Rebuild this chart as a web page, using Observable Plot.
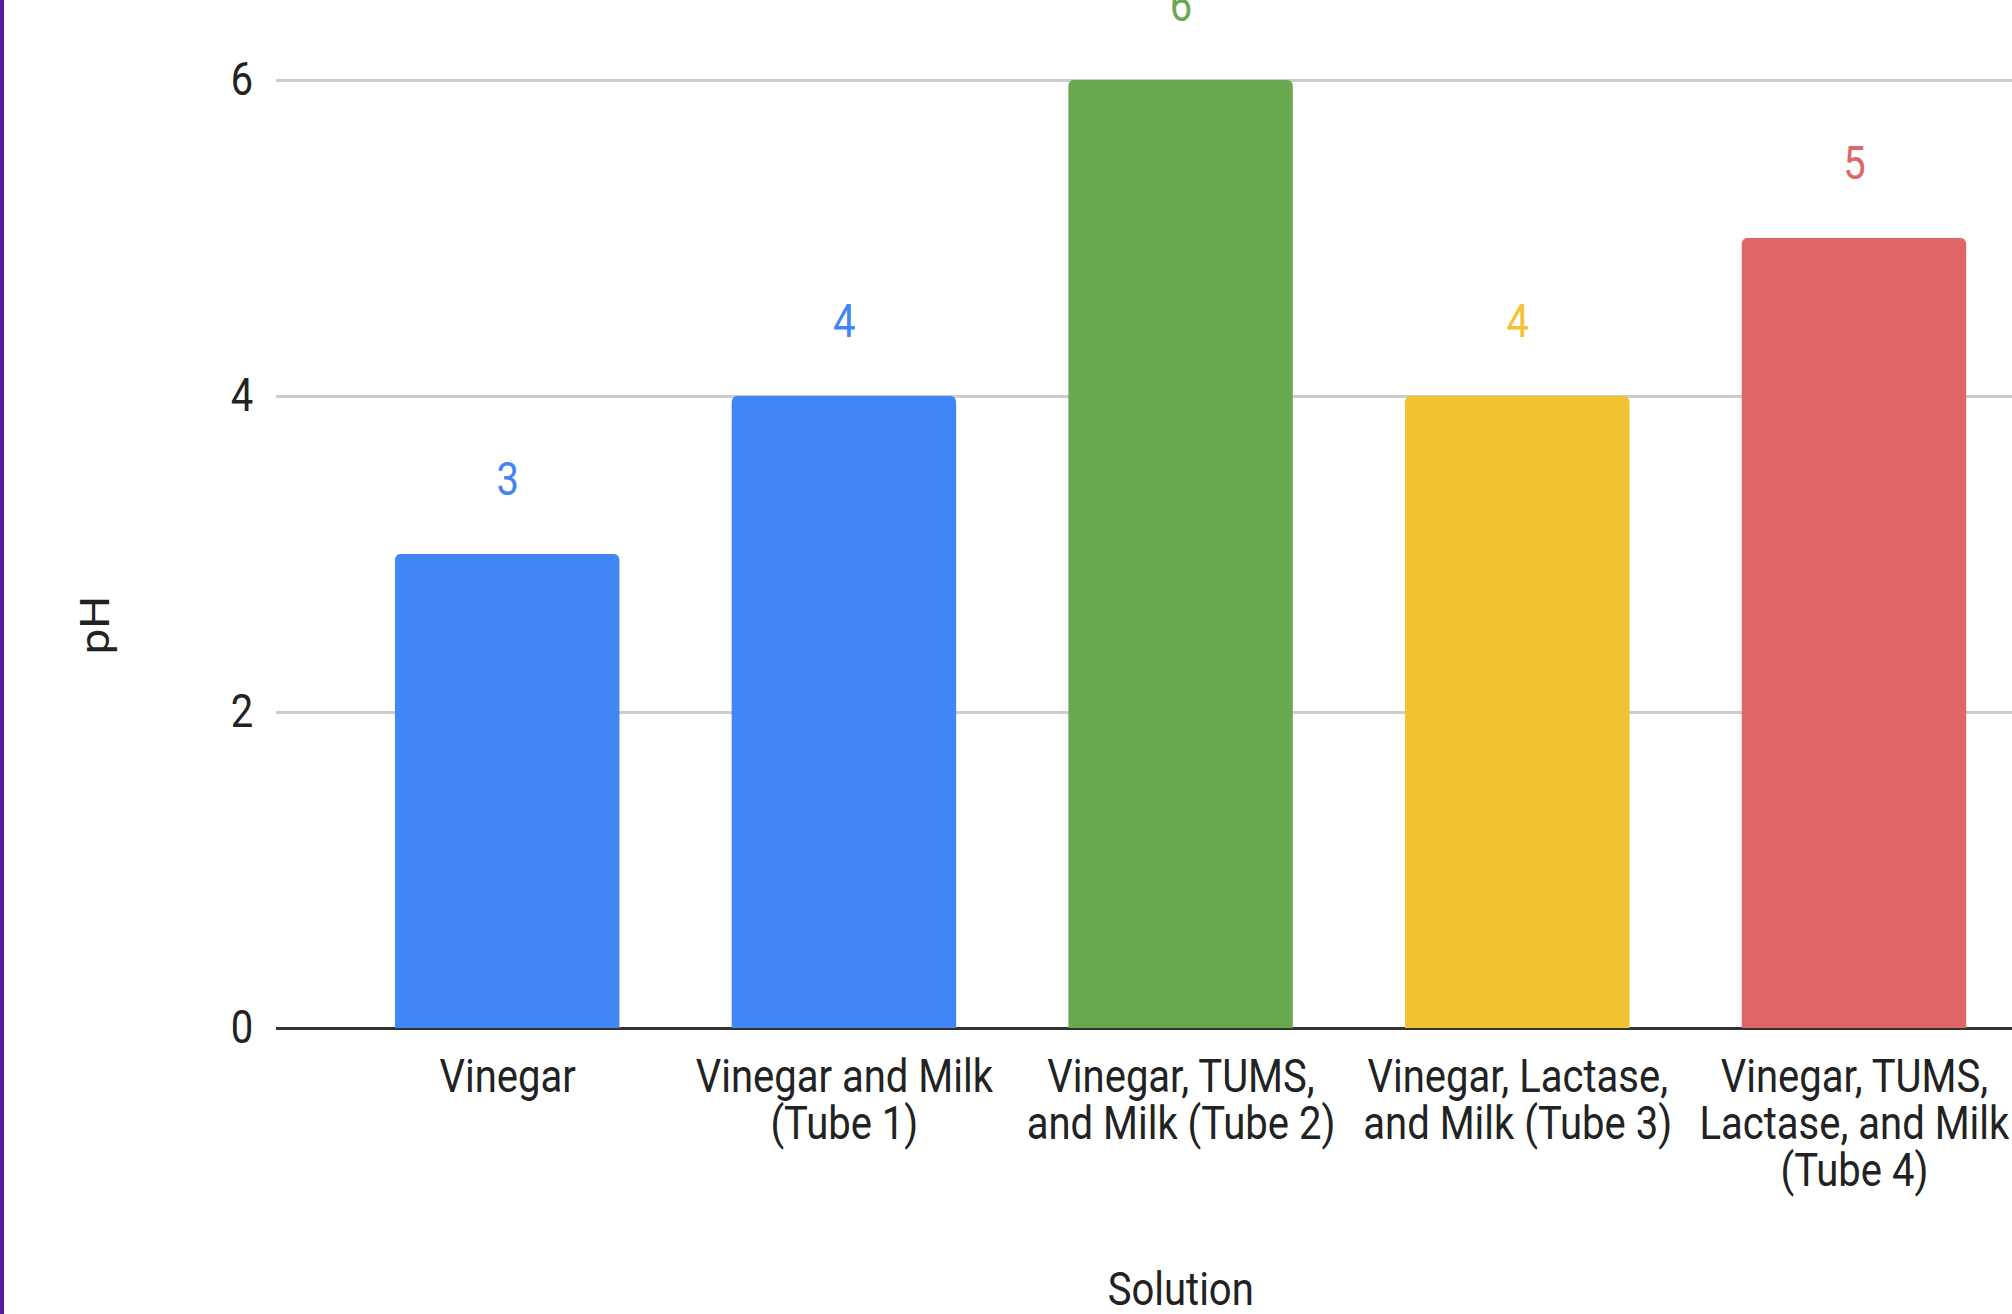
<!DOCTYPE html>
<html>
<head>
<meta charset="utf-8">
<script src="https://cdn.jsdelivr.net/npm/d3@7"></script>
<script src="https://cdn.jsdelivr.net/npm/@observablehq/plot@0.6"></script>
<style>
  html, body { margin: 0; padding: 0; background: #fff; overflow: hidden; }
  #wrap { position: relative; width: 2012px; height: 1314px; overflow: hidden; background: #fff; }
  #edge { position: absolute; left: 0; top: 0; width: 4px; height: 100%; background: #5a1aa4; }
</style>
</head>
<body>
<div id="wrap"><div id="chart"></div><div id="edge"></div></div>
<script>
// ---- data ----
const solutions = [
  "Vinegar",
  "Vinegar and Milk (Tube 1)",
  "Vinegar, TUMS, and Milk (Tube 2)",
  "Vinegar, Lactase, and Milk (Tube 3)",
  "Vinegar, TUMS, Lactase, and Milk (Tube 4)"
];
const tickLabels = [
  "Vinegar",
  "Vinegar and Milk\n(Tube 1)",
  "Vinegar, TUMS,\nand Milk (Tube 2)",
  "Vinegar, Lactase,\nand Milk (Tube 3)",
  "Vinegar, TUMS,\nLactase, and Milk\n(Tube 4)"
];
const pHValues = [3, 4, 6, 4, 5];
const barColors = ["#4285f4", "#4285f4", "#6aa84f", "#f1c232", "#e06666"];
const yTicks = [0, 2, 4, 6];
const xTitle = "Solution";
const yTitle = "pH";

const data = solutions.map((s, i) => ({solution: s, pH: pHValues[i], color: barColors[i]}));
const labelOf = new Map(solutions.map((s, i) => [s, tickLabels[i]]));

// the reference picture is horizontally compressed; draw wide, then squeeze
const squeeze = 0.87;
const FS = 46;
const left = 276 / squeeze, right = 2084.6 / squeeze;
const W = Math.ceil(right + 8);

const chart = Plot.plot({
  width: W,
  height: 1314,
  marginLeft: left,
  marginRight: W - right,
  marginTop: 80,
  marginBottom: 286,
  style: {fontFamily: "Roboto, sans-serif", maxWidth: "none", background: "#fff", color: "#222"},
  x: {domain: solutions, paddingInner: 0.333, paddingOuter: 0.3455, label: null},
  y: {domain: [0, 6], label: null},
  color: {type: "identity"},
  marks: [
    Plot.gridY(yTicks.filter(t => t !== 0), {stroke: "#cccccc", strokeOpacity: 1, strokeWidth: 3}),
    Plot.ruleY([0], {stroke: "#333333", strokeWidth: 3}),
    Plot.barY(data, {x: "solution", y: "pH", fill: "color", rx: 6, insetBottom: -10, clip: true}),
    Plot.text(data, {x: "solution", y: "pH", text: d => String(d.pH), fill: "color", dy: -60, lineAnchor: "bottom", fontSize: FS}),
    Plot.axisY({ticks: yTicks, tickFormat: d => String(d), tickSize: 0, tickPadding: 26 * 0.89 / squeeze, fontSize: FS, label: null, fill: "#222"}),
    Plot.axisX({tickSize: 0, tickPadding: 30, fontSize: FS, lineHeight: 1.02, label: null, fill: "#222",
                tickFormat: d => labelOf.get(d)}),
    Plot.text([xTitle], {frameAnchor: "bottom", lineAnchor: "bottom", dy: 276, fontSize: FS, fill: "#222"}),
    Plot.text([yTitle], {frameAnchor: "left", rotate: -90, dx: -(left - 96 / squeeze), dy: 100, fontSize: FS, fill: "#222"})
  ]
});
chart.style.transformOrigin = "0 0";
chart.style.transform = `scaleX(${squeeze})`;
document.getElementById("chart").appendChild(chart);
</script>
</body>
</html>
